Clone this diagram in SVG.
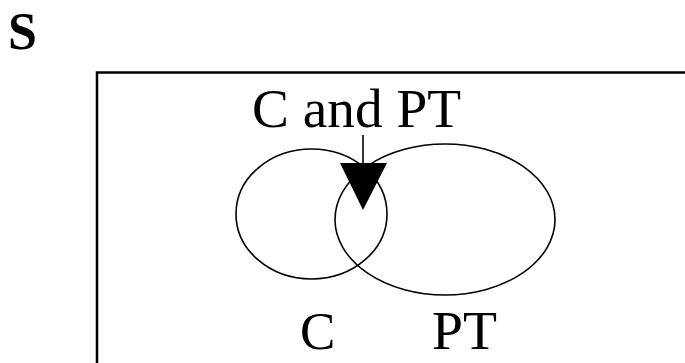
<svg xmlns="http://www.w3.org/2000/svg" width="685" height="363" viewBox="0 0 685 363">
<style>
.t{font-family:"Liberation Serif","Times New Roman",serif;fill:#000}
.e{fill:none;stroke:#000;stroke-width:1.6}
</style>
<rect width="685" height="363" fill="#fff"/>
<text class="t" x="8" y="49" font-size="52" font-weight="bold">S</text>
<rect id="S" x="97" y="72.5" width="700" height="400" fill="none" stroke="#000" stroke-width="2.5"/>
<g id="C"><ellipse class="e" cx="311.5" cy="214" rx="75.5" ry="65"/><text class="t" x="300" y="349" font-size="53">C</text></g>
<g id="PT"><ellipse class="e" cx="445" cy="219.5" rx="110" ry="75.5"/><text class="t" x="432" y="349" font-size="54" textLength="65" lengthAdjust="spacingAndGlyphs">PT</text></g>
<g id="label"><text class="t" x="252" y="127" font-size="54" textLength="209" lengthAdjust="spacingAndGlyphs">C and PT</text></g>
<g id="connectors">
<line x1="363" y1="135" x2="363" y2="165" stroke="#000" stroke-width="1.6"/>
<polygon points="340,163 387,163 363,210" fill="#000"/>
</g>
</svg>
